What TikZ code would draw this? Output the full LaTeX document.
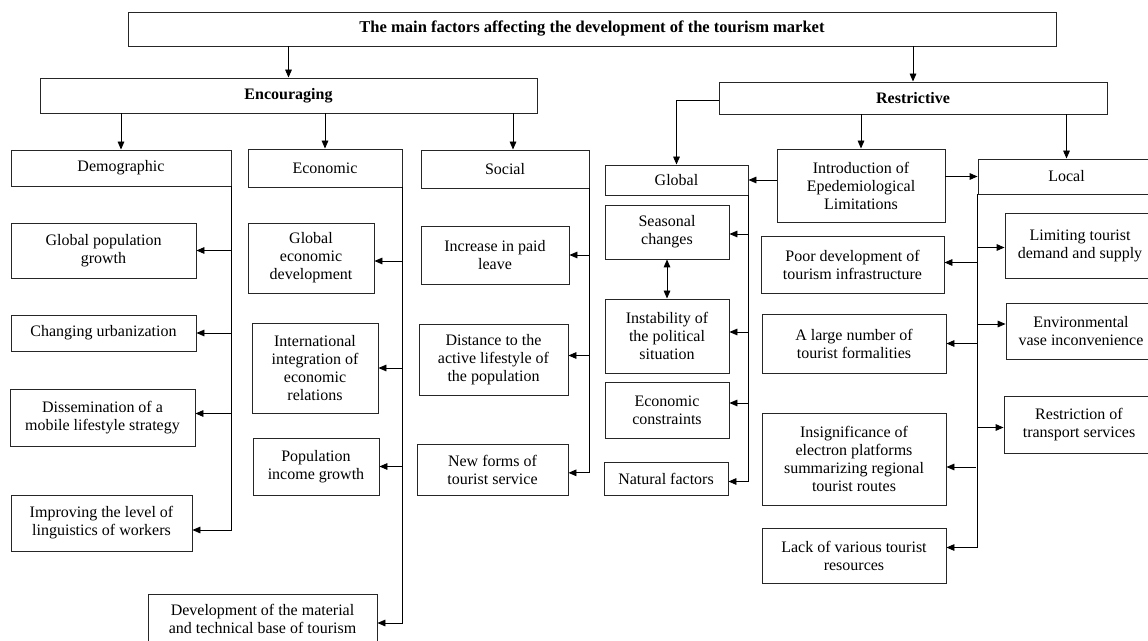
\documentclass[tikz,border=0pt]{standalone}
\usepackage{fontspec}
\setmainfont{Liberation Serif}
\usetikzlibrary{arrows.meta}
\newcommand{\mkbox}[6]{%
  \pgfmathsetmacro{\bwid}{(#4-#2)*0.75}%
  \pgfmathsetmacro{\bhei}{(#5-#3)*0.75}%
  \node[boxst, minimum width=\bwid pt, minimum height=\bhei pt] (#1) at ({(#2+#4)/2},{(#3+#5)/2}) {#6};}
\begin{document}
\begin{tikzpicture}[x=0.75pt,y=-0.75pt,
  boxst/.style={draw=black!85, line width=0.7pt, inner sep=0pt, align=center,
    font=\fontsize{12}{13.5}\selectfont},
  arr/.style={line width=0.7pt, -{Triangle[length=6pt,width=5pt]}},
  dblarr/.style={line width=0.7pt, {Triangle[length=6pt,width=5pt]}-{Triangle[length=6pt,width=5pt]}}]
\useasboundingbox (0,0) rectangle (1148,641);

% top level
\mkbox{title}{128}{12}{1056}{46}{\fontsize{12.4}{14}\selectfont\bfseries The main factors affecting the development of the tourism market}
\mkbox{enc}{40}{78}{537}{113}{\bfseries Encouraging}
\mkbox{restr}{719}{82}{1107}{114}{\bfseries Restrictive}

% encouraging groups
\mkbox{demog}{11}{150}{231}{186}{Demographic}
\mkbox{econ}{248}{149}{402}{187}{Economic}
\mkbox{social}{421}{150}{589}{188}{Social}

% demographic items
\mkbox{gpg}{11}{223}{196}{278}{Global population\\growth}
\mkbox{cu}{11}{315}{196}{351}{Changing urbanization}
\mkbox{diss}{10}{389}{195}{446}{Dissemination of a\\mobile lifestyle strategy}
\mkbox{impr}{11}{495}{192}{551}{Improving the level of\\linguistics of workers}

% economic items
\mkbox{ged}{248}{223}{374}{293}{Global\\economic\\development}
\mkbox{iier}{252}{323}{378}{413}{International\\integration of\\economic\\relations}
\mkbox{pig}{253}{438}{379}{495}{Population\\income growth}
\mkbox{dmtb}{148}{594}{377}{644}{Development of the material\\and technical base of tourism}

% social items
\mkbox{ipl}{421}{226}{569}{284}{Increase in paid\\leave}
\mkbox{dist}{419}{324}{568}{395}{Distance to the\\active lifestyle of\\the population}
\mkbox{nfts}{417}{444}{568}{495}{New forms of\\tourist service}

% restrictive groups
\mkbox{glob}{605}{165}{748}{195}{Global}
\mkbox{intro}{777}{149}{945}{222}{Introduction of\\Epedemiological\\Limitations}
\mkbox{local}{978}{159}{1155}{194}{Local}

% global items
\mkbox{seas}{605}{205}{729}{259}{Seasonal\\changes}
\mkbox{inst}{605}{299}{729}{373}{Instability of\\the political\\situation}
\mkbox{ecc}{605}{382}{729}{438}{Economic\\constraints}
\mkbox{natf}{604}{462}{728}{495}{Natural factors}

% local items (left)
\mkbox{poor}{761}{236}{944}{293}{Poor development of\\tourism infrastructure}
\mkbox{large}{762}{314}{946}{373}{A large number of\\tourist formalities}
\mkbox{insig}{762}{413}{946}{505}{Insignificance of\\electron platforms\\summarizing regional\\tourist routes}
\mkbox{lack}{762}{528}{946}{583}{Lack of various tourist\\resources}

% local items (right)
\mkbox{limit}{1005}{213}{1155}{278}{Limiting tourist\\demand and supply}
\mkbox{envir}{1006}{303}{1156}{359}{Environmental\\vase inconvenience}
\mkbox{trans}{1004}{396}{1154}{453}{Restriction of\\transport services}

% top connectors
\draw[arr] (title.south -| enc.north) -- (enc.north);
\draw[arr] (title.south -| restr.north) -- (restr.north);
\draw[arr] (enc.south -| demog.north) -- (demog.north);
\draw[arr] (enc.south -| econ.north) -- (econ.north);
\draw[arr] ([xshift=6pt]enc.south -| social.north) -- ([xshift=6pt]social.north);
\draw[arr] ([yshift=-1.5pt]restr.west) -| (glob.north);
\draw[arr] (restr.south -| intro.north) -- (intro.north);
\draw[arr] (restr.south -| local.north) -- (local.north);
\draw[arr] (intro.west |- glob.east) -- (glob.east);
\draw[arr] (intro.east |- local.west) -- (local.west);

% demographic bus
\draw[arr] (demog.south east) |- ([yshift=-5.25pt]impr.east);
\draw[arr] (demog.south east |- gpg.east) -- (gpg.east);
\draw[arr] (demog.south east |- cu.east) -- (cu.east);
\draw[arr] (demog.south east |- diss.east) ++(0,-4) -- ([yshift=3pt]diss.east);

% economic bus
\draw[arr] (econ.south east) |- ([yshift=-3pt]dmtb.east);
\draw[arr] (econ.south east |- ged.east) ++(0,3) -- ([yshift=-2.25pt]ged.east);
\draw[arr] (econ.south east |- iier.east) -- (iier.east);
\draw[arr] (econ.south east |- pig.east) -- (pig.east);

% social bus
\draw[arr] (social.south east) |- ([yshift=-2.5pt]nfts.east);
\draw[arr] (social.south east |- ipl.east) -- (ipl.east);
\draw[arr] (social.south east |- dist.east) ++(0,-4) -- ([yshift=3pt]dist.east);

% global bus
\draw[arr] (glob.south east) |- ([yshift=-2.25pt]natf.east);
\draw[arr] (glob.south east |- seas.east) ++(0,2) -- ([yshift=-1.5pt]seas.east);
\draw[arr] (glob.south east |- inst.east) ++(0,-4) -- ([yshift=3pt]inst.east);
\draw[arr] (glob.south east |- ecc.east) ++(0,-7) -- ([yshift=5.25pt]ecc.east);
\draw[dblarr] (seas.south) -- (inst.north);

% local bus
\draw[arr] (local.south west) |- ([yshift=6pt]lack.east);
\draw[arr] (local.south west |- poor.east) ++(0,-2) -- ([yshift=1.5pt]poor.east);
\draw[arr] (local.south west |- large.east) -- (large.east);
\draw[arr] (local.south west |- insig.east) ++(-2,8) -- ([yshift=-6pt]insig.east);
\draw[arr] (local.south west |- limit.west) ++(0,2) -- ([yshift=-1.5pt]limit.west);
\draw[arr] (local.south west |- envir.west) ++(0,-7) -- ([yshift=5.25pt]envir.west);
\draw[arr] (local.south west |- trans.west) ++(0,3) -- ([yshift=-2.25pt]trans.west);
\end{tikzpicture}
\end{document}
